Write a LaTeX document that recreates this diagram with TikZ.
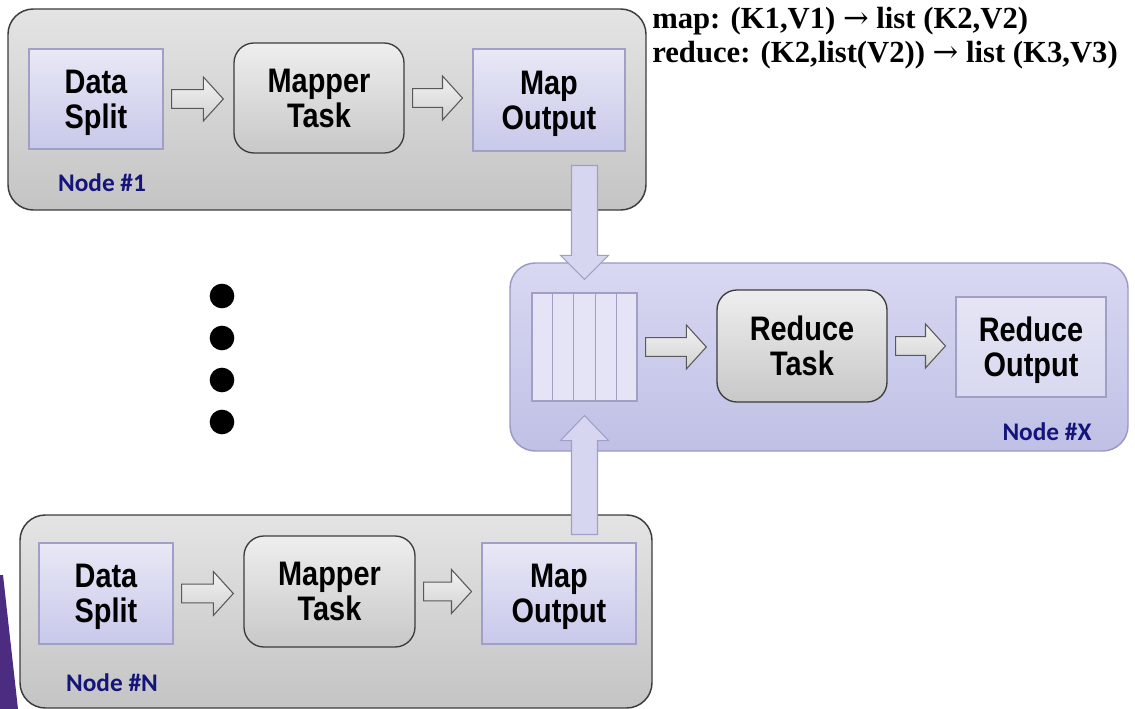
\documentclass[tikz,border=0pt]{standalone}
\usepackage{fontspec}
\setmainfont{Liberation Serif}
\newfontfamily\boxfont{Liberation Sans}[FakeStretch=0.85]
\newfontfamily\tagfont{Carlito}
\newfontfamily\arrowfont{DejaVu Serif}
\usetikzlibrary{calc}

\definecolor{edgegray}{HTML}{3C3C3C}
\definecolor{panelTop}{HTML}{E4E4E4}
\definecolor{panelBot}{HTML}{C4C4C4}
\definecolor{taskTop}{HTML}{EEEEEE}
\definecolor{taskBot}{HTML}{C8C8C8}
\definecolor{lavTop}{HTML}{E8E8F6}
\definecolor{lavBot}{HTML}{C8C8EA}
\definecolor{lavEdge}{HTML}{A0A0C6}
\definecolor{redTop}{HTML}{D8D8F2}
\definecolor{redBot}{HTML}{C0C0E6}
\definecolor{redEdge}{HTML}{9A9AC4}
\definecolor{queueFill}{HTML}{E4E4F6}
\definecolor{flowFill}{HTML}{D6D6F0}
\definecolor{tagNavy}{HTML}{14147A}
\definecolor{slidePurple}{HTML}{4B2C80}
\definecolor{tipTop}{HTML}{F2F2F2}
\definecolor{tipBot}{HTML}{D2D2D2}

% arrow sign used in the function signatures
\newcommand{\sigarrow}{{\arrowfont\mdseries →}}

% horizontal hollow arrow from the east side of #1 to the west side of #2
\newcommand{\rightblock}[2]{%
  \path[smallarrow] let \p1=(#1.east), \p2=(#2.west) in
    (\x1+6pt,\y1+7pt) -- (\x2-22.5pt,\y1+7pt) -- (\x2-22.5pt,\y1+16.5pt)
    -- (\x2-7.5pt,\y1) -- (\x2-22.5pt,\y1-16.5pt) -- (\x2-22.5pt,\y1-7pt)
    -- (\x1+6pt,\y1-7pt) -- cycle;}
% vertical arrow from below #1 down onto the top of #2
\newcommand{\downblock}[2]{%
  \path[bigarrow] let \p1=(#1.south), \p2=(#2.north) in
    (\x2-9.75pt,\y1-10.5pt) -- (\x2+9.75pt,\y1-10.5pt) -- (\x2+9.75pt,\y2+27.75pt)
    -- (\x2+18pt,\y2+27.75pt) -- (\x2,\y2+9.75pt) -- (\x2-18pt,\y2+27.75pt)
    -- (\x2-9.75pt,\y2+27.75pt) -- cycle;}
% vertical arrow from above #1 up onto the bottom of #2
\newcommand{\upblock}[2]{%
  \path[bigarrow] let \p1=(#1.north), \p2=(#2.south) in
    (\x2-9.75pt,\y1+6pt) -- (\x2+9.75pt,\y1+6pt) -- (\x2+9.75pt,\y2-29.25pt)
    -- (\x2+18pt,\y2-29.25pt) -- (\x2,\y2-10.5pt) -- (\x2-18pt,\y2-29.25pt)
    -- (\x2-9.75pt,\y2-29.25pt) -- cycle;}

\begin{document}
\begin{tikzpicture}[x=0.75pt,y=-0.75pt,
  size/.style 2 args={minimum width=#1*0.75pt, minimum height=#2*0.75pt, inner sep=0pt},
  panel/.style={draw=edgegray, line width=1.1pt, rounded corners=19pt,
    top color=panelTop, bottom color=panelBot},
  redpanel/.style={draw=redEdge, line width=1.1pt, rounded corners=19pt,
    top color=redTop, bottom color=redBot},
  boxtext/.style={font=\boxfont\bfseries\fontsize{25.5}{26}\selectfont, align=center,
    text depth=0pt},
  databox/.style={boxtext, draw=lavEdge, line width=0.8pt, top color=lavTop, bottom color=lavBot},
  taskbox/.style={boxtext, draw=edgegray, line width=1pt, rounded corners=15pt,
    top color=taskTop, bottom color=taskBot},
  queuebox/.style={draw=lavEdge, line width=0.8pt, fill=queueFill},
  nodetag/.style={font=\tagfont\bfseries\fontsize{19}{20}\selectfont, text=tagNavy, inner sep=0pt},
  smallarrow/.style={draw=edgegray!85, line width=0.8pt, top color=tipTop, bottom color=tipBot},
  bigarrow/.style={draw=lavEdge, line width=0.8pt, fill=flowFill},
  bullet/.style={circle, fill=black, minimum size=18.5pt, inner sep=0pt},
  signature/.style={font=\bfseries\fontsize{23}{25}\selectfont, inner sep=0pt, anchor=base west}
]
\useasboundingbox (0,0) rectangle (1135,709);
\fill[white] (0,0) rectangle (1135,709);

% slide accent in the lower left corner
\fill[slidePurple] (0,575) -- (3,575) -- (18,709) -- (0,709) -- cycle;

% ---- first mapper machine
\node[panel, size={638}{201}] (n1) at (327,109.5) {};
\node[databox, size={134}{100}] (ds1) at (96,99) {Data\\Split};
\node[taskbox, size={170}{110}] (mt1) at (319,98) {Mapper\\Task};
\node[databox, size={152}{102}] (mo1) at (549,100) {Map\\Output};
\node[nodetag] (tag1) at (102,183) {Node \#1};
\rightblock{ds1}{mt1}
\rightblock{mt1}{mo1}

% ---- last mapper machine
\node[panel, size={632}{193}] (nN) at (336,611.5) {};
\node[databox, size={134}{101}] (dsN) at (106,593.5) {Data\\Split};
\node[taskbox, size={171}{111}] (mtN) at (329.5,591.5) {Mapper\\Task};
\node[databox, size={154}{101}] (moN) at (559,593.5) {Map\\Output};
\node[nodetag] (tagN) at (112,683) {Node \#N};
\rightblock{dsN}{mtN}
\rightblock{mtN}{moN}

% ---- reducer machine
\node[redpanel, size={618}{188}] (nX) at (819,357) {};
\node[queuebox, size={105}{108}] (q) at (584.5,347) {};
\foreach \i in {1,...,4}
  \draw[draw=lavEdge, line width=0.8pt]
    ($(q.north west)!\i/5!(q.north east)$) -- ($(q.south west)!\i/5!(q.south east)$);
\node[taskbox, size={170}{112}] (rt) at (802,346) {Reduce\\Task};
\node[databox, size={150}{100}, top color=lavTop!80!redTop, bottom color=lavTop!60!redBot] (ro) at (1031,347) {Reduce\\Output};
\node[nodetag] (tagX) at (1047,432) {Node \#X};
\rightblock{q}{rt}
\rightblock{rt}{ro}

% ---- shuffle into the reducer queue
\downblock{mo1}{q}
\upblock{moN}{q}

% ---- the machines in between
\node[bullet] (d1) at (222,296) {};
\node[bullet] (d2) at (222,338) {};
\node[bullet] (d3) at (222,380) {};
\node[bullet] (d4) at (222,422) {};

% ---- function signatures
\node[signature] (sigmap) at (652,29) {map: (K1,V1) \sigarrow{} list (K2,V2)};
\node[signature] (sigreduce) at (652,63) {reduce: (K2,list(V2)) \sigarrow{} list (K3,V3)};
\end{tikzpicture}
\end{document}
